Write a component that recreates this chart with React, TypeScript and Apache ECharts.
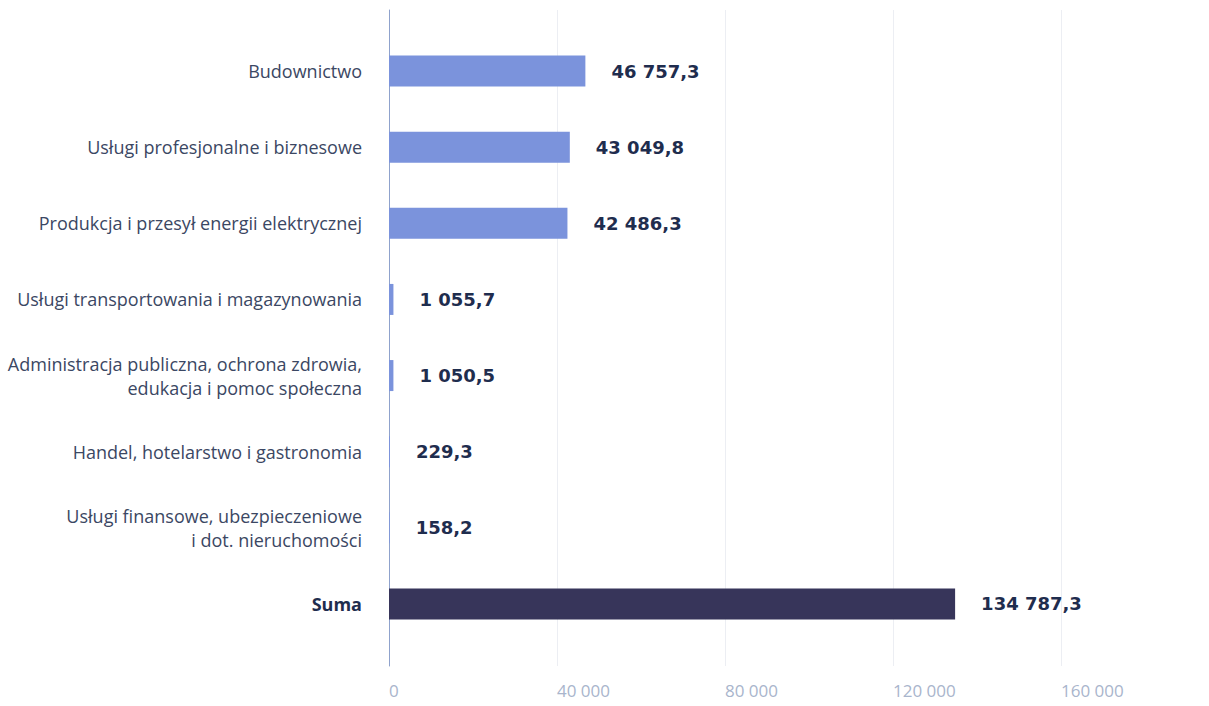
import React, { useEffect, useRef } from "react";
import * as echarts from "echarts";

const categories: string[] = [
  "Budownictwo",
  "Usługi profesjonalne i biznesowe",
  "Produkcja i przesył energii elektrycznej",
  "Usługi transportowania i magazynowania",
  "Administracja publiczna, ochrona zdrowia,\nedukacja i pomoc społeczna",
  "Handel, hotelarstwo i gastronomia",
  "Usługi finansowe, ubezpieczeniowe\ni dot. nieruchomości",
  "Suma",
];
const values: number[] = [46757.3, 43049.8, 42486.3, 1055.7, 1050.5, 229.3, 158.2, 134787.3];
const axisMax = 160000;
const axisStep = 40000;

const fmt = (v: number): string => {
  const [i, d] = v.toFixed(1).split(".");
  const int = i.replace(/\B(?=(\d{3})+(?!\d))/g, " ");
  return d !== undefined ? `${int},${d}` : int;
};
const fmtInt = (v: number): string => String(Math.round(v)).replace(/\B(?=(\d{3})+(?!\d))/g, " ");

export default function App() {
  const ref = useRef<HTMLDivElement>(null);
  useEffect(() => {
    if (!ref.current) return;
    const chart = echarts.init(ref.current, null, { renderer: "svg" });
    const gridPos = { left: 389, right: 148 };
    chart.setOption({
      animation: false,
      backgroundColor: "#ffffff",
      grid: [
        { ...gridPos, top: 33, bottom: 64, containLabel: false },
        { ...gridPos, top: 10, bottom: 40, containLabel: false },
      ],
      xAxis: [
        { type: "value", gridIndex: 0, min: 0, max: axisMax, interval: axisStep, show: false },
        {
          type: "value",
          gridIndex: 1,
          min: 0,
          max: axisMax,
          interval: axisStep,
          axisLine: { show: false },
          axisTick: { show: false },
          splitLine: { show: true, lineStyle: { color: "#eceef3", width: 1 } },
          axisLabel: {
            align: "left",
            margin: 16,
            color: "#a9b5cc",
            fontFamily: "Open Sans",
            fontSize: 17,
            lineHeight: 17,
            formatter: (v: number) => fmtInt(v),
          },
        },
      ],
      yAxis: [
        {
          type: "category",
          gridIndex: 0,
          inverse: true,
          data: categories,
          axisLine: { show: false },
          axisTick: { show: false },
          splitLine: { show: false },
          axisLabel: {
            margin: 27,
            color: "#3b4763",
            fontFamily: "Open Sans",
            fontSize: 18,
            lineHeight: 24,
            align: "right",
            formatter: (v: string) => (v === "Suma" ? `{b|${v}}` : v),
            rich: {
              b: { fontWeight: "bold", color: "#1f2d4e", fontFamily: "Open Sans", fontSize: 18 },
            },
          },
        },
        {
          type: "value",
          gridIndex: 1,
          axisLine: { show: true, onZero: false, lineStyle: { color: "#8fa2cc", width: 1 } },
          axisTick: { show: false },
          axisLabel: { show: false },
          splitLine: { show: false },
        },
      ],
      series: [
        {
          type: "bar",
          xAxisIndex: 0,
          yAxisIndex: 0,
          barWidth: 31,
          data: values.map((v, i) => ({
            value: v,
            itemStyle: { color: categories[i] === "Suma" ? "#37355a" : "#7b93dc" },
          })),
          label: {
            show: true,
            position: "right",
            distance: 26,
            color: "#1f2d4e",
            fontFamily: "DejaVu Sans",
            fontWeight: "bold",
            fontSize: 18,
            formatter: (p: any) => fmt(p.value),
          },
        },
        { type: "scatter", xAxisIndex: 1, yAxisIndex: 1, data: [] },
      ],
    });
    return () => chart.dispose();
  }, []);
  return <div ref={ref} style={{ width: 1209, height: 706, position: "absolute", left: 0, top: 0 }} />;
}
